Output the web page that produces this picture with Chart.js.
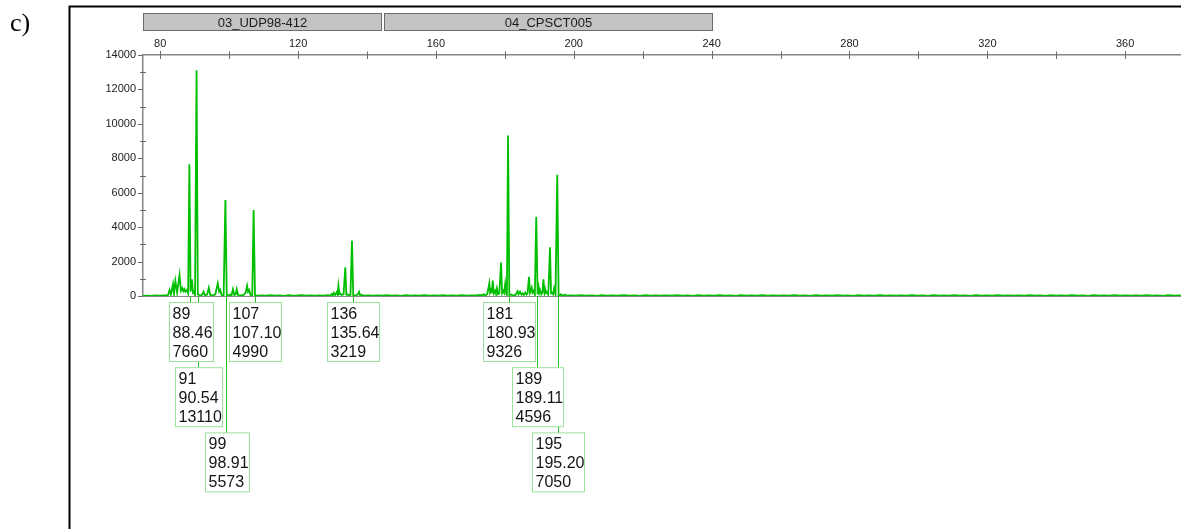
<!DOCTYPE html>
<html>
<head>
<meta charset="utf-8">
<title>Electropherogram c)</title>
<script src="https://cdn.jsdelivr.net/npm/chart.js@4.4.1/dist/chart.umd.min.js"></script>
<style>
  html, body { margin: 0; padding: 0; background: #ffffff; overflow: hidden; }
  #wrap { position: relative; width: 1181px; height: 529px; }
  canvas { display: block; }
</style>
</head>
<body>
<div id="wrap"><canvas id="c" width="1181" height="529"></canvas></div>
<script>
// ---- Called peaks (allele, fragment size in bp, height in RFU) ----
const peakAllele = [89, 91, 99, 107, 136, 181, 189, 195];
const peakSize   = [88.46, 90.54, 98.91, 107.10, 135.64, 180.93, 189.11, 195.20];
const peakHeight = [7660, 13110, 5573, 4990, 3219, 9326, 4596, 7050];

// ---- Marker bins shown above the size axis ----
const binNames = ['03_UDP98-412', '04_CPSCT005'];
const binStart = [75, 144.94];
const binEnd   = [143.98, 240.2];

// ---- Axis ticks ----
const xTickValues = [80, 120, 160, 200, 240, 280, 320, 360];
const yTickValues = [0, 2000, 4000, 6000, 8000, 10000, 12000, 14000];

// ---- Remaining trace: stutter, minor peaks and baseline noise [bp, RFU] ----
const traceRest = [
  [75.0, 0], [76.2, 20], [77.5, 10], [78.6, 30], [79.8, 15], [80.9, 40], [81.8, 30],
  [82.3, 60], [82.7, 350], [83.1, 80], [83.7, 690], [84.0, 120], [84.4, 870], [84.9, 200],
  [85.6, 1220], [86.0, 300], [86.4, 460], [86.7, 280], [87.0, 400], [87.3, 250], [87.7, 350],
  [88.1, 150], [88.8, 250], [89.2, 970], [89.5, 200], [89.7, 250], [90.1, 60],
  [90.9, 100], [91.4, 40], [92.0, 30], [92.6, 250], [93.0, 40], [93.6, 80], [94.1, 480],
  [94.5, 60], [95.2, 30], [96.0, 100], [96.7, 740], [97.1, 250], [97.4, 350], [97.8, 60],
  [98.4, 40], [99.3, 60], [99.8, 30], [100.3, 80], [100.7, 40], [101.1, 390], [101.5, 60],
  [101.9, 100], [102.2, 390], [102.6, 40], [103.4, 30], [104.2, 60], [104.8, 200],
  [105.2, 600], [105.5, 250], [105.8, 350], [106.2, 60], [106.7, 40],
  [107.5, 40], [108.3, 20], [109.5, 40], [110.8, 15], [112.0, 50], [113.2, 20], [114.6, 35],
  [116.0, 10], [117.3, 45], [118.5, 20], [119.8, 30], [121.0, 55], [122.4, 20], [123.6, 40],
  [124.9, 15], [126.1, 35], [127.4, 25], [128.6, 50], [129.3, 20], [129.8, 120], [130.1, 30],
  [130.4, 180], [130.8, 60], [131.3, 250], [131.5, 100], [131.7, 600], [132.0, 120],
  [132.2, 150], [132.6, 60], [133.2, 100], [133.7, 1670], [134.0, 80], [134.3, 100],
  [134.7, 40], [135.2, 60], [136.0, 30], [136.8, 40], [137.3, 80], [137.7, 250], [138.0, 40],
  [138.5, 60], [139.2, 20], [140.5, 40], [141.8, 15], [143.0, 35], [144.4, 20], [145.8, 50],
  [147.1, 25], [148.5, 40], [149.9, 10], [151.2, 45], [152.6, 20], [153.9, 35], [155.3, 15],
  [156.6, 50], [158.0, 25], [159.4, 40], [160.7, 20], [162.1, 45], [163.4, 15], [164.8, 35],
  [166.2, 25], [167.5, 55], [168.9, 20], [170.2, 40], [171.6, 30], [172.9, 60], [173.5, 40],
  [173.8, 100], [174.3, 30], [174.9, 120], [175.5, 740], [175.7, 200], [176.0, 350],
  [176.2, 150], [176.5, 890], [176.8, 150], [177.2, 300], [177.4, 150], [177.7, 450],
  [178.0, 100], [178.4, 150], [178.9, 1940], [179.2, 150], [179.6, 300], [179.8, 200],
  [180.1, 700], [180.4, 120], [180.6, 60], [181.3, 60], [182.0, 80], [182.5, 30], [183.0, 40],
  [183.7, 280], [184.0, 100], [184.4, 250], [184.8, 80], [185.1, 150], [185.5, 60],
  [185.9, 200], [186.3, 80], [186.6, 150], [187.0, 1120], [187.3, 200], [187.8, 500],
  [188.0, 200], [188.3, 300], [188.7, 80], [189.5, 100], [189.8, 500], [190.0, 200],
  [190.2, 350], [190.6, 100], [190.9, 200], [191.2, 970], [191.5, 200], [191.7, 400],
  [192.0, 150], [192.2, 200], [192.6, 80], [193.1, 2830], [193.4, 150], [193.6, 200],
  [194.0, 100], [194.3, 450], [194.7, 100], [195.6, 40], [196.0, 30], [196.3, 100],
  [196.7, 20], [197.5, 80], [198.0, 20], [199.0, 40],
  [200.5, 15], [202.1, 45], [203.4, 20], [205.2, 35], [206.9, 10], [208.0, 50], [209.7, 25],
  [211.4, 40], [212.8, 15], [214.6, 45], [215.9, 20], [217.7, 35], [219.0, 10], [220.8, 55],
  [222.1, 20], [223.9, 40], [225.2, 15], [226.6, 35], [228.5, 25], [229.8, 50], [231.6, 20],
  [232.9, 40], [234.7, 10], [236.0, 45], [237.8, 20], [239.1, 35], [240.9, 15], [242.2, 50],
  [244.0, 25], [245.3, 40], [247.1, 10], [248.4, 45], [250.2, 20], [251.5, 35], [253.3, 15],
  [254.6, 55], [256.4, 20], [257.7, 40], [259.5, 15], [260.8, 35], [262.6, 25], [263.9, 50],
  [265.7, 20], [267.0, 40], [268.8, 10], [270.1, 45], [271.9, 20], [273.2, 35], [275.0, 15],
  [276.3, 50], [278.1, 25], [279.4, 40], [281.2, 10], [282.5, 45], [284.3, 20], [285.6, 35],
  [287.4, 15], [288.7, 55], [290.5, 20], [291.8, 40], [293.6, 15], [294.9, 35], [296.7, 25],
  [298.0, 50], [299.8, 20], [301.1, 40], [302.9, 10], [304.2, 45], [306.0, 20], [307.3, 35],
  [309.1, 15], [310.4, 50], [312.2, 25], [313.5, 40], [315.3, 10], [316.6, 45], [318.4, 20],
  [319.7, 35], [321.5, 15], [322.8, 55], [324.6, 20], [325.9, 40], [327.7, 15], [329.0, 35],
  [330.8, 25], [332.1, 50], [333.9, 20], [335.2, 40], [337.0, 10], [338.3, 45], [340.1, 20],
  [341.4, 35], [343.2, 15], [344.5, 50], [346.3, 25], [347.6, 40], [349.4, 10], [350.7, 45],
  [352.5, 20], [353.8, 35], [355.6, 15], [356.9, 55], [358.7, 20], [360.0, 40], [361.8, 15],
  [363.1, 35], [364.9, 25], [366.2, 50], [368.0, 20], [369.3, 40], [371.1, 10], [372.4, 45],
  [374.2, 20], [375.5, 35], [376.2, 15]
];

// Merge called peaks into the trace so every labelled apex comes from its own value
const trace = traceRest.map(p => ({ x: p[0], y: p[1] }));
peakSize.forEach((s, i) => trace.push({ x: s, y: peakHeight[i] }));
trace.sort((a, b) => a.x - b.x);

const SANS = '"Liberation Sans", Arial, Helvetica, sans-serif';
const SERIF = '"Liberation Serif", "Times New Roman", serif';

// Decorations: frame, panel letter, bins, crossing tick marks, peak labels
const decorPlugin = {
  id: 'decor',
  afterDatasetsDraw(chart) {
    const ctx = chart.ctx;
    const xs = chart.scales.x, ys = chart.scales.y;
    const area = chart.chartArea;
    ctx.save();
    // baseline axis at zero, over the trace
    const y0 = ys.getPixelForValue(0);
    ctx.strokeStyle = '#8a8a8a';
    ctx.lineWidth = 1.2;
    ctx.beginPath();
    ctx.moveTo(area.left, y0 + 0.5);
    ctx.lineTo(area.right, y0 + 0.5);
    ctx.stroke();

    // tick marks crossing the size axis (labelled + midway)
    ctx.strokeStyle = '#6a6a6a';
    ctx.lineWidth = 1;
    const axY = area.top;
    const xt = [];
    xTickValues.forEach((v, i) => {
      xt.push([v, true]);
      if (i < xTickValues.length - 1) xt.push([(v + xTickValues[i + 1]) / 2, false]);
    });
    xt.forEach(([v, major]) => {
      const px = Math.round(xs.getPixelForValue(v)) + 0.5;
      ctx.beginPath();
      ctx.moveTo(px, axY - (major ? 4 : 3.5));
      ctx.lineTo(px, axY + 4);
      ctx.stroke();
    });
    // tick marks on the RFU axis
    const axX = area.left;
    yTickValues.forEach((v, i) => {
      const py = Math.round(ys.getPixelForValue(v)) + 0.5;
      ctx.beginPath();
      ctx.moveTo(axX - 5, py);
      ctx.lineTo(axX, py);
      ctx.stroke();
      if (i < yTickValues.length - 1) {
        const pm = Math.round(ys.getPixelForValue((v + yTickValues[i + 1]) / 2)) + 0.5;
        ctx.beginPath();
        ctx.moveTo(axX - 3, pm);
        ctx.lineTo(axX + 3, pm);
        ctx.stroke();
      }
    });
    ctx.restore();
  },
  afterDraw(chart) {
    const ctx = chart.ctx;
    const xs = chart.scales.x, ys = chart.scales.y;
    ctx.save();

    // outer frame (left and top edges)
    ctx.strokeStyle = '#000';
    ctx.lineWidth = 2;
    ctx.beginPath();
    ctx.moveTo(69.5, 529);
    ctx.lineTo(69.5, 6.5);
    ctx.lineTo(1181, 6.5);
    ctx.stroke();

    // panel letter
    ctx.fillStyle = '#000';
    ctx.font = '26px ' + SERIF;
    ctx.textAlign = 'left';
    ctx.textBaseline = 'alphabetic';
    ctx.fillText('c)', 10, 31);

    // marker bins
    ctx.font = '13px ' + SANS;
    ctx.textAlign = 'center';
    ctx.textBaseline = 'middle';
    binNames.forEach((name, i) => {
      const x1 = Math.round(xs.getPixelForValue(binStart[i])) + 0.5;
      const x2 = Math.round(xs.getPixelForValue(binEnd[i])) + 0.5;
      ctx.fillStyle = '#c3c3c3';
      ctx.fillRect(x1, 13.5, x2 - x1, 17);
      ctx.strokeStyle = '#6c6c6c';
      ctx.lineWidth = 1;
      ctx.strokeRect(x1, 13.5, x2 - x1, 17);
      ctx.fillStyle = '#1c1c1c';
      ctx.fillText(name, (x1 + x2) / 2, 23);
    });

    // peak labels: greedy stacking into rows below the trace
    const y0 = ys.getPixelForValue(0);
    ctx.font = '16px ' + SANS;
    const rows = [];
    const boxes = peakSize.map((s, i) => {
      const lines = [String(peakAllele[i]), peakSize[i].toFixed(2), String(peakHeight[i])];
      const w = Math.max(...lines.map(t => ctx.measureText(t).width)) + 3.5;
      const cx = Math.round(xs.getPixelForValue(s)) + 1.5;
      const left = cx - w / 2;
      let r = 0;
      while (rows[r] !== undefined && rows[r] > left) r++;
      rows[r] = left + w + 1;
      return { lines, w, cx, left, r };
    });
    const rowTop = r => y0 + 6.5 + r * 65.2;
    const boxH = 59;
    // connectors
    ctx.strokeStyle = 'rgb(40,190,40)';
    ctx.lineWidth = 1;
    boxes.forEach(b => {
      ctx.beginPath();
      ctx.moveTo(b.cx, y0);
      ctx.lineTo(b.cx, rowTop(b.r));
      ctx.stroke();
    });
    // boxes
    boxes.forEach(b => {
      const top = rowTop(b.r);
      ctx.fillStyle = '#ffffff';
      ctx.fillRect(b.left, top, b.w, boxH);
      ctx.strokeStyle = 'rgb(155,225,155)';
      ctx.lineWidth = 1;
      ctx.strokeRect(Math.round(b.left) + 0.5, top, Math.round(b.w), boxH);
      ctx.fillStyle = '#141414';
      ctx.textAlign = 'left';
      ctx.textBaseline = 'middle';
      b.lines.forEach((t, k) => {
        ctx.fillText(t, Math.round(b.left) + 3.5, top + 12 + k * 18.8);
      });
    });
    ctx.restore();
  }
};

new Chart(document.getElementById('c'), {
  type: 'line',
  data: {
    datasets: [{
      data: trace,
      borderColor: 'rgb(0,190,0)',
      borderWidth: 1.8,
      pointRadius: 0,
      tension: 0,
      fill: false
    }]
  },
  options: {
    responsive: false,
    animation: false,
    devicePixelRatio: 1,
    layout: { padding: { left: 0, top: 0, right: 0, bottom: 233 } },
    plugins: { legend: { display: false }, tooltip: { enabled: false } },
    scales: {
      x: {
        type: 'linear',
        position: 'top',
        min: 75,
        max: 376.2,
        afterBuildTicks: s => { s.ticks = xTickValues.map(v => ({ value: v })); },
        afterFit: s => { s.height = 55; },
        grid: { display: false, drawTicks: false, tickLength: 0 },
        border: { display: true, color: '#858585', width: 1.5 },
        ticks: {
          autoSkip: false, maxRotation: 0, padding: 4,
          color: '#222', font: { family: SANS, size: 11 },
          callback: v => String(v)
        }
      },
      y: {
        type: 'linear',
        min: 0,
        max: 14000,
        afterBuildTicks: s => { s.ticks = yTickValues.map(v => ({ value: v })); },
        afterFit: s => { s.width = 143; },
        grid: { display: false, drawTicks: false, tickLength: 0 },
        border: { display: true, color: '#858585', width: 1.5 },
        ticks: {
          padding: 7,
          color: '#222', font: { family: SANS, size: 11 },
          callback: v => String(v)
        }
      }
    }
  },
  plugins: [decorPlugin]
});
</script>
</body>
</html>
